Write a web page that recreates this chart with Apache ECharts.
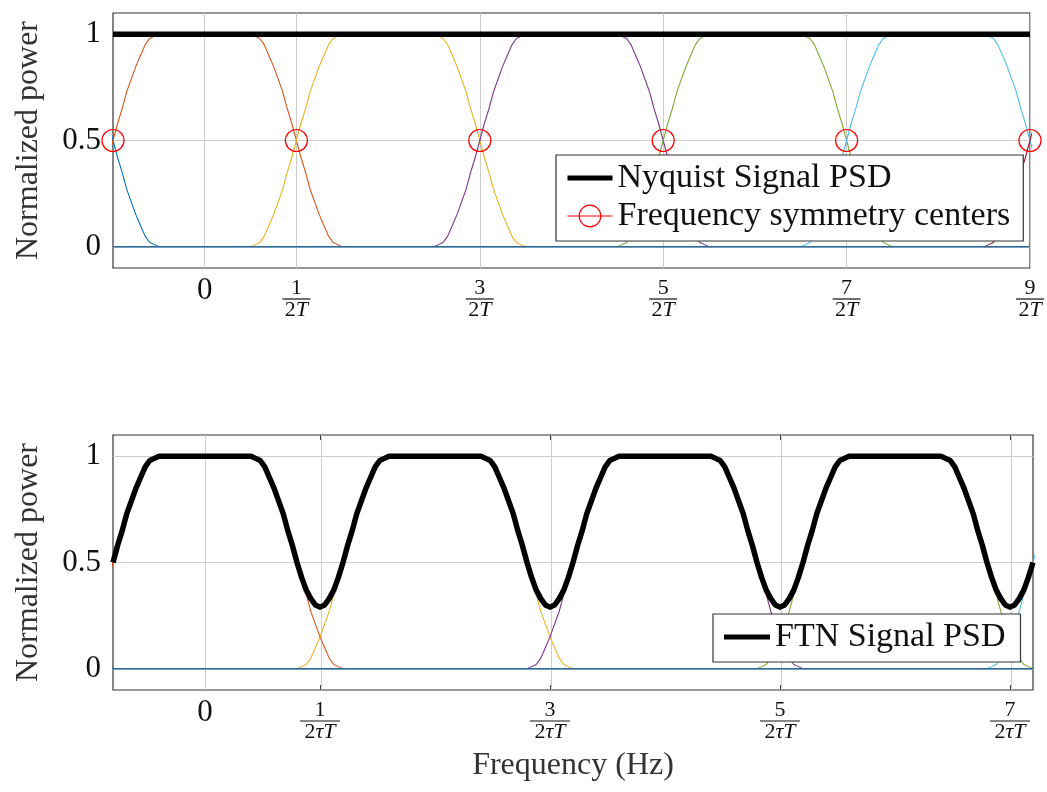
<!DOCTYPE html>
<html>
<head>
<meta charset="utf-8">
<title>Nyquist vs FTN signal PSD</title>
<script src="https://cdn.jsdelivr.net/npm/echarts@6/dist/echarts.min.js"></script>
<style>
  html, body { margin: 0; padding: 0; background: #fff; }
  #chart { width: 1047px; height: 792px; }
</style>
</head>
<body>
<div id="chart"></div>
<script>
// Raised-cosine pulse spectrum edge: offset from the pulse centre (units of 1/T) and normalised power
const edgeOffsets = [0.200, 0.250, 0.275, 0.300, 0.325, 0.350, 0.375, 0.400, 0.425, 0.450, 0.475,
                     0.500, 0.525, 0.550, 0.575, 0.600, 0.625, 0.650, 0.675, 0.700, 0.725, 0.750];
const edgeValues  = [1.00, 1.00, 0.99, 0.98, 0.95, 0.90, 0.85, 0.79, 0.73, 0.65, 0.58,
                     0.50, 0.42, 0.35, 0.27, 0.21, 0.15, 0.10, 0.05, 0.02, 0.01, 0.00];

// Pulse colours, one per shifted spectrum
const pulseColors = ['#0072BD', '#D95319', '#EDB120', '#7E2F8E', '#77AC30', '#4DBEEE', '#A2142F'];

// Centres of the shifted spectra (units of 1/T)
const nyquistCenters = [-1, 0, 1, 2, 3, 4, 5];
const ftnCenters = [-1.25, 0, 1.25, 2.5, 3.75, 5];

// Aggregate PSDs
const nyquistPsd = [[-0.5, 1], [4.5, 1]];
const symmetryCenters = [[-0.5, 0.5], [0.5, 0.5], [1.5, 0.5], [2.5, 0.5], [3.5, 0.5], [4.5, 0.5]];
const ftnPsd = [
  [-0.500, 0.50], [-0.475, 0.58], [-0.450, 0.65], [-0.425, 0.73], [-0.400, 0.79], [-0.375, 0.85],
  [-0.350, 0.90], [-0.325, 0.95], [-0.300, 0.98], [-0.275, 0.99], [-0.250, 1.00],
  [0.250, 1.00], [0.275, 0.99], [0.300, 0.98], [0.325, 0.95], [0.350, 0.90], [0.375, 0.85],
  [0.400, 0.79], [0.425, 0.73], [0.450, 0.65], [0.475, 0.58], [0.500, 0.50], [0.525, 0.43],
  [0.550, 0.37], [0.575, 0.33], [0.600, 0.30], [0.625, 0.29], [0.650, 0.30], [0.675, 0.33],
  [0.700, 0.37], [0.725, 0.43], [0.750, 0.50], [0.775, 0.58], [0.800, 0.65], [0.825, 0.73],
  [0.850, 0.79], [0.875, 0.85], [0.900, 0.90], [0.925, 0.95], [0.950, 0.98], [0.975, 0.99],
  [1.000, 1.00],
  [1.500, 1.00], [1.525, 0.99], [1.550, 0.98], [1.575, 0.95], [1.600, 0.90], [1.625, 0.85],
  [1.650, 0.79], [1.675, 0.73], [1.700, 0.65], [1.725, 0.58], [1.750, 0.50], [1.775, 0.43],
  [1.800, 0.37], [1.825, 0.33], [1.850, 0.30], [1.875, 0.29], [1.900, 0.30], [1.925, 0.33],
  [1.950, 0.37], [1.975, 0.43], [2.000, 0.50], [2.025, 0.58], [2.050, 0.65], [2.075, 0.73],
  [2.100, 0.79], [2.125, 0.85], [2.150, 0.90], [2.175, 0.95], [2.200, 0.98], [2.225, 0.99],
  [2.250, 1.00],
  [2.750, 1.00], [2.775, 0.99], [2.800, 0.98], [2.825, 0.95], [2.850, 0.90], [2.875, 0.85],
  [2.900, 0.79], [2.925, 0.73], [2.950, 0.65], [2.975, 0.58], [3.000, 0.50], [3.025, 0.43],
  [3.050, 0.37], [3.075, 0.33], [3.100, 0.30], [3.125, 0.29], [3.150, 0.30], [3.175, 0.33],
  [3.200, 0.37], [3.225, 0.43], [3.250, 0.50], [3.275, 0.58], [3.300, 0.65], [3.325, 0.73],
  [3.350, 0.79], [3.375, 0.85], [3.400, 0.90], [3.425, 0.95], [3.450, 0.98], [3.475, 0.99],
  [3.500, 1.00],
  [4.000, 1.00], [4.025, 0.99], [4.050, 0.98], [4.075, 0.95], [4.100, 0.90], [4.125, 0.85],
  [4.150, 0.79], [4.175, 0.73], [4.200, 0.65], [4.225, 0.58], [4.250, 0.50], [4.275, 0.43],
  [4.300, 0.37], [4.325, 0.33], [4.350, 0.30], [4.375, 0.29], [4.400, 0.30], [4.425, 0.33],
  [4.450, 0.37], [4.475, 0.43], [4.500, 0.50]
];
const zeroLine = [[-0.5, 0], [4.5, 0]];

// Axis ticks
const xMin = -0.5, xMax = 4.5, yMin = -0.1, yMax = 1.1;
const yTickValues = [0, 0.5, 1];
const topTickValues = [0, 0.5, 1.5, 2.5, 3.5, 4.5];
const topTickNumerators = ['0', '1', '3', '5', '7', '9'];
const bottomTickValues = [0, 0.625, 1.875, 3.125, 4.375];
const bottomTickNumerators = ['0', '1', '3', '5', '7'];

const FONT = 'Liberation Serif';

function pulse(c) {
  const pts = [];
  for (let i = edgeOffsets.length - 1; i >= 0; i--) pts.push([c - edgeOffsets[i], edgeValues[i]]);
  for (let i = 0; i < edgeOffsets.length; i++) pts.push([c + edgeOffsets[i], edgeValues[i]]);
  return pts;
}

function fractionFormatter(values, numerators, denTail) {
  return function (v) {
    let idx = -1;
    for (let i = 0; i < values.length; i++) if (Math.abs(values[i] - v) < 1e-6) idx = i;
    if (idx < 0) return '';
    const n = numerators[idx];
    if (n === '0') return '{zero|0}';
    return '{num|' + n + '}\n{' + (denTail.length > 1 ? 'barW' : 'bar') + '|}\n{den|2}{it|' + denTail + '}';
  };
}

const richStyles = {
  zero: { fontFamily: FONT, fontSize: 31, lineHeight: 23, color: '#111' },
  num: { fontFamily: FONT, fontSize: 22, lineHeight: 18, color: '#111', align: 'center' },
  bar: { width: 28, height: 1.2, lineHeight: 4, backgroundColor: '#111', align: 'center' },
  barW: { width: 40, height: 1.2, lineHeight: 4, backgroundColor: '#111', align: 'center' },
  den: { fontFamily: FONT, fontSize: 22, lineHeight: 18, color: '#111' },
  it: { fontFamily: FONT, fontSize: 22, lineHeight: 18, fontStyle: 'italic', color: '#111' }
};

const tickStyle = { color: '#444', width: 1 };

function xAxes(gridIndex, tickValues, numerators, denTail, withName) {
  const bottom = {
    gridIndex, type: 'value', min: xMin, max: xMax, position: 'bottom',
    axisLine: { show: false, onZero: false }, splitLine: { show: false },
    axisTick: { inside: true, length: 5, customValues: tickValues, lineStyle: tickStyle },
    axisLabel: {
      customValues: tickValues, margin: 11, color: '#111',
      formatter: fractionFormatter(tickValues, numerators, denTail), rich: richStyles
    }
  };
  if (withName) {
    bottom.name = 'Frequency (Hz)';
    bottom.nameLocation = 'middle';
    bottom.nameGap = 60;
    bottom.nameTextStyle = { fontFamily: FONT, fontSize: 32, color: '#333' };
  }
  const top = {
    gridIndex, type: 'value', min: xMin, max: xMax, position: 'top',
    axisLine: { show: false, onZero: false }, splitLine: { show: false }, axisLabel: { show: false },
    axisTick: { inside: true, length: 5, customValues: tickValues, lineStyle: tickStyle }
  };
  return [bottom, top];
}

function yAxes(gridIndex) {
  const left = {
    gridIndex, type: 'value', min: yMin, max: yMax, position: 'left',
    name: 'Normalized power', nameLocation: 'middle', nameGap: 68,
    nameTextStyle: { fontFamily: FONT, fontSize: 32, color: '#333' },
    axisLine: { show: false, onZero: false }, splitLine: { show: false },
    axisTick: { inside: true, length: 5, customValues: yTickValues, lineStyle: tickStyle },
    axisLabel: { customValues: yTickValues, margin: 12, fontFamily: FONT, fontSize: 31, color: '#111' }
  };
  const right = {
    gridIndex, type: 'value', min: yMin, max: yMax, position: 'right',
    axisLine: { show: false, onZero: false }, splitLine: { show: false }, axisLabel: { show: false },
    axisTick: { inside: true, length: 5, customValues: yTickValues, lineStyle: tickStyle }
  };
  return [left, right];
}

// Light grid lines at the tick positions, kept under the curves
function gridLineSeries(xAxisIndex, yAxisIndex, tickValues) {
  return {
    type: 'line', xAxisIndex, yAxisIndex, data: [], z: 1, silent: true,
    markLine: {
      z: 1, silent: true, symbol: 'none', animation: false,
      label: { show: false },
      lineStyle: { color: '#cdcdcd', width: 1, type: 'solid' },
      data: tickValues.map(v => ({ xAxis: v })).concat(yTickValues.map(v => ({ yAxis: v })))
    }
  };
}

function pulseSeries(centers, xAxisIndex, yAxisIndex) {
  return centers.map((c, i) => ({
    type: 'line', xAxisIndex, yAxisIndex, data: pulse(c),
    showSymbol: false, symbol: 'none', silent: true, z: 2,
    lineStyle: { color: pulseColors[i], width: 1.1 }
  }));
}

function zeroSeries(xAxisIndex, yAxisIndex) {
  return {
    type: 'line', xAxisIndex, yAxisIndex, data: zeroLine, symbol: 'none', silent: true, z: 3,
    lineStyle: { color: '#2f6a9c', width: 1.5 }
  };
}

const thickIcon = 'path://M0 0H46V5H0Z';

const option = {
  animation: false,
  backgroundColor: '#fff',
  textStyle: { fontFamily: FONT },
  grid: [
    { left: 113, top: 13, width: 920, height: 255, show: true, borderColor: '#333', borderWidth: 1.2, backgroundColor: 'transparent' },
    { left: 113, top: 435, width: 920, height: 255, show: true, borderColor: '#333', borderWidth: 1.2, backgroundColor: 'transparent' }
  ],
  xAxis: xAxes(0, topTickValues, topTickNumerators, 'T', false)
    .concat(xAxes(1, bottomTickValues, bottomTickNumerators, 'τT', true)),
  yAxis: yAxes(0).concat(yAxes(1)),
  legend: [
    {
      orient: 'vertical', left: 556, top: 155, itemWidth: 45, itemHeight: 27, itemGap: 4,
      padding: [6, 13, 8, 11], borderColor: '#333', borderWidth: 1.2, backgroundColor: '#fff',
      selectedMode: false, textStyle: { fontFamily: FONT, fontSize: 34, color: '#111' },
      data: [
        { name: 'Nyquist Signal PSD', icon: thickIcon, itemStyle: { color: '#000' } },
        {
          name: 'Frequency symmetry centers',
          lineStyle: { color: '#ff0000', width: 1, opacity: 1 },
          itemStyle: { color: 'rgba(255,255,255,0)', borderColor: '#ff0000', borderWidth: 1.2 }
        }
      ]
    },
    {
      orient: 'vertical', left: 713, top: 614, itemWidth: 46, itemHeight: 27, itemGap: 4,
      padding: [6, 15, 8, 11], borderColor: '#333', borderWidth: 1.2, backgroundColor: '#fff',
      selectedMode: false, textStyle: { fontFamily: FONT, fontSize: 34, color: '#111' },
      data: [{ name: 'FTN Signal PSD', icon: thickIcon, itemStyle: { color: '#000' } }]
    }
  ],
  series: [].concat(
    [gridLineSeries(0, 0, topTickValues)],
    pulseSeries(nyquistCenters, 0, 0),
    [zeroSeries(0, 0)],
    [{
      name: 'Nyquist Signal PSD', type: 'line', xAxisIndex: 0, yAxisIndex: 0, data: nyquistPsd,
      symbol: 'none', z: 4, lineStyle: { color: '#000', width: 5.5 }, itemStyle: { color: '#000' }
    }, {
      name: 'Frequency symmetry centers', type: 'line', xAxisIndex: 0, yAxisIndex: 0, data: symmetryCenters,
      symbol: 'circle', symbolSize: 22, showSymbol: true, clip: false, z: 5,
      lineStyle: { opacity: 0 },
      itemStyle: { color: 'rgba(255,255,255,0)', borderColor: '#ff0000', borderWidth: 1.2 }
    }],
    [gridLineSeries(2, 2, bottomTickValues)],
    pulseSeries(ftnCenters, 2, 2),
    [zeroSeries(2, 2)],
    [{
      name: 'FTN Signal PSD', type: 'line', xAxisIndex: 2, yAxisIndex: 2, data: ftnPsd,
      symbol: 'none', z: 4,
      lineStyle: { color: '#000', width: 5.5, join: 'round' }, itemStyle: { color: '#000' }
    }]
  )
};

const chart = echarts.init(document.getElementById('chart'), null, { renderer: 'canvas' });
chart.setOption(option);
</script>
</body>
</html>
